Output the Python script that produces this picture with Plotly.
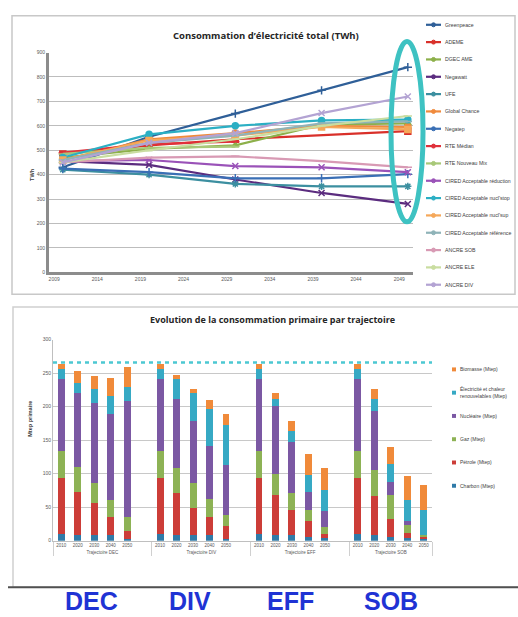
import plotly.graph_objects as go

W, H = 518, 617

# ---------------- top chart data (TWh) ----------------
YEARS = [2010, 2020, 2030, 2040, 2050]
SERIES_NAMES = ["Greenpeace", "ADEME", "DGEC AME", "Negawatt", "UFE", "Global Chance",
                "Negatep", "RTE Médian", "RTE Nouveau Mix", "CIRED Acceptable réduction",
                "CIRED Acceptable nucl'stop", "CIRED Acceptable nucl'sup",
                "CIRED Acceptable référence", "ANCRE SOB", "ANCRE ELE", "ANCRE DIV"]
greenpeace = [430, 555, 650, 745, 840]
ademe = [485, 520, 545, None, 578]
dgec_ame = [470, 505, 520, 605, 610]
negawatt = [455, 440, 380, 325, 280]
ufe = [420, 400, 362, 352, 352]
global_chance = [460, 545, 570, 600, 595]
negatep = [425, 410, 385, 385, 402]
rte_median = [490, 525, 535, None, None]
rte_nouveau_mix = [485, 510, 515, None, None]
cired_reduction = [455, 460, 435, 430, 410]
cired_nuclstop = [470, 565, 600, 622, 625]
cired_nuclsup = [460, 540, 560, 595, 585]
cired_reference = [460, 530, 560, 610, 618]
ancre_sob = [450, 470, 475, 455, 430]
ancre_ele = [450, 500, 545, 600, 640]
ancre_div = [450, 530, 570, 652, 720]
SERIES_VALUES = [greenpeace, ademe, dgec_ame, negawatt, ufe, global_chance, negatep,
                 rte_median, rte_nouveau_mix, cired_reduction, cired_nuclstop,
                 cired_nuclsup, cired_reference, ancre_sob, ancre_ele, ancre_div]
SERIES_COLORS = ["#2F5F98", "#D9302A", "#8DB04A", "#5B2C7F", "#3C8FA0", "#F08A3C",
                 "#3A6FB5", "#E0303A", "#A8C878", "#9A52B8", "#2BAFC4", "#F5A85A",
                 "#8FB3B8", "#D89AB4", "#C9DDA0", "#B3A3D3"]
SERIES_SYMBOLS = ["cross-thin", "square", "triangle-up", "x-thin", "asterisk", "circle",
                  "cross-thin", "line-ew", "line-ew", "x-thin", "circle", "square",
                  "line-ew", "line-ew", "line-ew", "x-thin"]
Y_TICKS_TOP = [0, 100, 200, 300, 400, 500, 600, 700, 800, 900]

# ---------------- bottom chart data (Mtep) ----------------
TRAJECTOIRES = ["Trajectoire DEC", "Trajectoire DIV", "Trajectoire EFF", "Trajectoire SOB"]
BAR_YEARS = ["2010", "2020", "2030", "2040", "2050"]
# order within each list: DEC(5), DIV(5), EFF(5), SOB(5)
charbon = [10, 9, 8, 8, 3,   10, 9, 8, 8, 2,   10, 9, 8, 6, 4,   10, 8, 5, 4, 2]
petrole = [84, 64, 48, 28, 11,   84, 62, 41, 28, 20,   84, 59, 38, 23, 6,   84, 58, 27, 8, 3]
gaz = [40, 37, 30, 25, 22,   40, 37, 37, 27, 17,   40, 32, 25, 17, 10,   40, 39, 36, 12, 4]
nucleaire = [108, 111, 120, 128, 173,   108, 103, 93, 79, 74,   108, 101, 76, 27, 25,   108, 89, 20, 5, 0]
renouvelables = [14, 15, 21, 27, 20,   14, 30, 42, 54, 59,   14, 10, 17, 25, 30,   14, 17, 27, 32, 37]
biomasse = [7, 17, 19, 27, 30,   7, 7, 6, 14, 17,   7, 10, 15, 32, 33,   7, 16, 25, 35, 37]
REFERENCE_2010 = 266
STACK_NAMES = ["Charbon (Mtep)", "Pétrole (Mtep)", "Gaz (Mtep)", "Nucléaire (Mtep)",
               "Électricité et chaleur<br>renouvelables (Mtep)", "Biomasse (Mtep)"]
STACK_VALUES = [charbon, petrole, gaz, nucleaire, renouvelables, biomasse]
STACK_COLORS = ["#2F7AA8", "#CC3D38", "#8DB255", "#7B58A3", "#36A9C4", "#F08A3A"]
Y_TICKS_BOTTOM = [0, 50, 100, 150, 200, 250, 300]
BIG_LABELS = ["DEC", "DIV", "EFF", "SOB"]


def px_x(p):
    return p / W


def px_y(p):
    return 1 - p / H


fig = go.Figure()

# top lines
for name, vals, col, sym in zip(SERIES_NAMES, SERIES_VALUES, SERIES_COLORS, SERIES_SYMBOLS):
    fig.add_trace(go.Scatter(
        x=YEARS, y=vals, name=name, mode="lines+markers", connectgaps=True,
        line=dict(color=col, width=2.2),
        marker=dict(symbol=sym, size=6, color=col, line=dict(color=col, width=1.5)),
        xaxis="x", yaxis="y", showlegend=False))

# bottom stacked bars with a blank slot between trajectories
cat_outer, cat_inner = [], []
for gi, traj in enumerate(TRAJECTOIRES):
    for yr in BAR_YEARS:
        cat_outer.append(traj)
        cat_inner.append(yr)
    if gi < len(TRAJECTOIRES) - 1:
        cat_outer.append(traj)
        cat_inner.append(" ")


def with_blanks(vals):
    out = []
    n = len(BAR_YEARS)
    for gi in range(len(TRAJECTOIRES)):
        out.extend(vals[gi * n:(gi + 1) * n])
        if gi < len(TRAJECTOIRES) - 1:
            out.append(None)
    return out


for name, vals, col in zip(STACK_NAMES, STACK_VALUES, STACK_COLORS):
    fig.add_trace(go.Bar(
        x=[cat_outer, cat_inner], y=with_blanks(vals), name=name,
        marker=dict(color=col, line=dict(width=0)),
        xaxis="x2", yaxis="y2", showlegend=False))

tick_font = dict(family="Liberation Sans", size=5, color="#595959")

shapes = []
annotations = []

# frames
shapes.append(dict(type="rect", xref="paper", yref="paper",
                   x0=px_x(12), x1=px_x(515), y0=px_y(294), y1=px_y(13),
                   line=dict(color="#C8C8C8", width=1.5), layer="below"))
shapes.append(dict(type="rect", xref="paper", yref="paper",
                   x0=px_x(13), x1=px_x(530), y0=px_y(590), y1=px_y(307),
                   line=dict(color="#D0D0D0", width=1.5), layer="below"))
shapes.append(dict(type="line", xref="paper", yref="paper",
                   x0=px_x(8), x1=px_x(530), y0=px_y(590), y1=px_y(590),
                   line=dict(color="#505050", width=2)))

# highlight ellipse around 2050
shapes.append(dict(type="circle", xref="paper", yref="paper",
                   x0=px_x(391), x1=px_x(423), y0=px_y(221), y1=px_y(39),
                   line=dict(color="#3EC2C2", width=5)))

# reference dashed line (2010 level)
shapes.append(dict(type="line", xref="x2 domain", yref="y2",
                   x0=0, x1=1, y0=REFERENCE_2010, y1=REFERENCE_2010,
                   line=dict(color="#4CC8D2", width=2.5, dash="4px,4px")))

# top legend (manual, compact)
for i, (name, col) in enumerate(zip(SERIES_NAMES, SERIES_COLORS)):
    yp = 22 + i * 17.5
    shapes.append(dict(type="line", xref="paper", yref="paper",
                       x0=px_x(426), x1=px_x(441), y0=px_y(yp), y1=px_y(yp),
                       line=dict(color=col, width=2.2)))
    shapes.append(dict(type="circle", xref="paper", yref="paper",
                       x0=px_x(431.5), x1=px_x(435.5), y0=px_y(yp + 2), y1=px_y(yp - 2),
                       line=dict(color=col, width=1), fillcolor=col))
    annotations.append(dict(text=name, x=px_x(443), y=px_y(yp), xref="paper", yref="paper",
                            xanchor="left", yanchor="middle", showarrow=False,
                            font=dict(family="Liberation Sans Narrow, Liberation Sans", size=5.2,
                                      color="#404040")))

# bottom legend (manual, reversed stack order)
for j, k in enumerate(reversed(range(len(STACK_NAMES)))):
    yp = 370 + j * 23.5
    shapes.append(dict(type="rect", xref="paper", yref="paper",
                       x0=px_x(452), x1=px_x(456), y0=px_y(yp + 2), y1=px_y(yp - 2),
                       line=dict(width=0), fillcolor=STACK_COLORS[k]))
    annotations.append(dict(text=STACK_NAMES[k], x=px_x(458), y=px_y(yp), xref="paper",
                            yref="paper", xanchor="left", yanchor="middle", showarrow=False,
                            align="left",
                            font=dict(family="Liberation Sans Narrow, Liberation Sans", size=5,
                                      color="#404040")))

# titles
annotations.append(dict(text="<b>Consommation d’électricité total (TWh)</b>",
                        x=px_x(266), y=px_y(33), xref="paper", yref="paper",
                        showarrow=False, xanchor="center", yanchor="middle",
                        font=dict(family="Open Sans", size=9.5, color="#262626")))
annotations.append(dict(text="<b>Evolution de la consommation primaire par trajectoire</b>",
                        x=px_x(272), y=px_y(320), xref="paper", yref="paper",
                        showarrow=False, xanchor="center", yanchor="middle",
                        font=dict(family="Open Sans", size=9, color="#262626")))
annotations.append(dict(text="<b>TWh</b>", x=px_x(27), y=px_y(165), xref="paper", yref="paper",
                        showarrow=False, textangle=-90,
                        font=dict(family="Liberation Sans", size=5.5, color="#404040")))
annotations.append(dict(text="<b>Mtep primaire</b>", x=px_x(25), y=px_y(440), xref="paper",
                        yref="paper", showarrow=False, textangle=-90,
                        font=dict(family="Liberation Sans", size=5.5, color="#404040")))

# big trajectory labels
for lab, xc in zip(BIG_LABELS, [91, 190, 290, 391]):
    annotations.append(dict(text="<b>" + lab + "</b>", x=px_x(xc), y=px_y(604), xref="paper",
                            yref="paper", showarrow=False, xanchor="center", yanchor="middle",
                            font=dict(family="Liberation Sans", size=25, color="#1F33D4")))

fig.update_layout(
    width=W, height=H, margin=dict(l=0, r=0, t=0, b=0),
    paper_bgcolor="white", plot_bgcolor="white",
    barmode="stack", bargap=0.58, showlegend=False,
    shapes=shapes, annotations=annotations,
    xaxis=dict(domain=[px_x(49), px_x(413)], anchor="y", range=[2008.4, 2050.6],
               tick0=2009, dtick=5, showgrid=False, zeroline=False,
               showline=True, linecolor="#8C8C8C", linewidth=3,
               ticks="", tickfont=tick_font),
    yaxis=dict(domain=[px_y(272), px_y(50)], anchor="x", range=[0, 900],
               tickvals=Y_TICKS_TOP, showgrid=True, gridcolor="#BDBDBD", gridwidth=1,
               zeroline=False, showline=True, linecolor="#8C8C8C", linewidth=3,
               ticks="", tickfont=tick_font),
    xaxis2=dict(domain=[px_x(53), px_x(432)], anchor="y2", type="multicategory",
                showgrid=False, showline=True, linecolor="#BFBFBF", linewidth=1,
                showdividers=True, dividercolor="#D0D0D0", dividerwidth=1,
                ticks="", tickangle=0,
                tickfont=dict(family="Liberation Sans", size=4.5, color="#595959")),
    yaxis2=dict(domain=[px_y(543), px_y(340)], anchor="x2", range=[0, 300],
                tickvals=Y_TICKS_BOTTOM, showgrid=True, gridcolor="#C8C8C8",
                zeroline=False, showline=True, linecolor="#BFBFBF", linewidth=1,
                ticks="", tickfont=tick_font),
)

fig.write_html(
    "out.html",
    config={"displayModeBar": False},
    post_script="document.body.style.margin='0px';document.body.style.overflow='hidden';",
)
